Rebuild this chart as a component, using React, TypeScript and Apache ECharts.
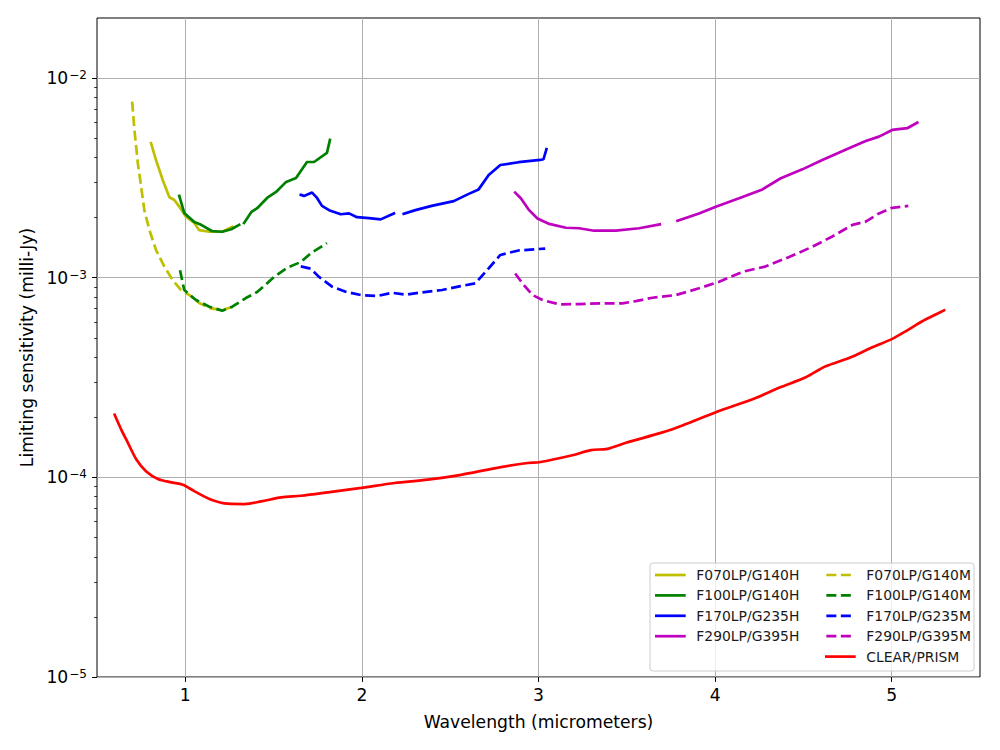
import React, { useEffect, useRef } from "react";
import * as echarts from "echarts";

const FONT = "DejaVu Sans";

const X_TICKS = [1, 2, 3, 4, 5];
const Y_TICKS = [1e-5, 1e-4, 1e-3, 1e-2];
const Y_MINOR = [
  2e-5, 3e-5, 4e-5, 5e-5, 6e-5, 7e-5, 8e-5, 9e-5,
  2e-4, 3e-4, 4e-4, 5e-4, 6e-4, 7e-4, 8e-4, 9e-4,
  2e-3, 3e-3, 4e-3, 5e-3, 6e-3, 7e-3, 8e-3, 9e-3,
];

type Pt = [number, number | null];

const F070LP_G140H: Pt[] = [
  [0.806, 4.72e-3], [0.834, 3.89e-3], [0.872, 3.09e-3], [0.91, 2.53e-3], [0.938, 2.45e-3],
  [0.966, 2.27e-3], [1.004, 2.02e-3], [1.051, 1.88e-3], [1.079, 1.73e-3], [1.136, 1.7e-3],
  [1.209, 1.7e-3], [1.266, 1.8e-3],
];
const F070LP_G140M: Pt[] = [
  [0.699, 7.62e-3], [0.712, 5.5e-3], [0.731, 3.76e-3], [0.75, 2.86e-3], [0.768, 2.18e-3],
  [0.797, 1.73e-3], [0.834, 1.38e-3], [0.881, 1.14e-3], [0.928, 9.74e-4], [0.976, 8.68e-4],
  [1.023, 8.19e-4], [1.079, 7.47e-4], [1.136, 7.05e-4], [1.209, 6.89e-4], [1.266, 7.13e-4],
];
const F100LP_G140H: Pt[] = [
  [0.966, 2.57e-3], [0.994, 2.11e-3], [1.051, 1.9e-3], [1.09, 1.84e-3], [1.153, 1.71e-3],
  [1.209, 1.7e-3], [1.26, 1.75e-3], [1.305, 1.84e-3], [1.32, null], [1.333, 1.88e-3],
  [1.373, 2.13e-3], [1.407, 2.23e-3], [1.463, 2.51e-3], [1.514, 2.69e-3], [1.571, 3.02e-3],
  [1.627, 3.16e-3], [1.689, 3.8e-3], [1.729, 3.8e-3], [1.802, 4.22e-3], [1.819, 4.9e-3],
];
const F100LP_G140M: Pt[] = [
  [0.97, 1.09e-3], [0.994, 8.68e-4], [1.06, 7.73e-4], [1.136, 7.16e-4], [1.209, 6.84e-4],
  [1.266, 7.16e-4], [1.343, 7.91e-4], [1.407, 8.48e-4], [1.503, 1.01e-3], [1.576, 1.12e-3],
  [1.655, 1.2e-3], [1.712, 1.33e-3], [1.802, 1.49e-3],
];
const F170LP_G235H: Pt[] = [
  [1.654, 2.6e-3], [1.672, 2.57e-3], [1.718, 2.67e-3], [1.746, 2.51e-3], [1.774, 2.29e-3],
  [1.814, 2.18e-3], [1.88, 2.08e-3], [1.927, 2.1e-3], [1.972, 2.01e-3], [2.04, 1.99e-3],
  [2.106, 1.96e-3], [2.181, 2.1e-3], [2.21, null], [2.237, 2.09e-3], [2.303, 2.18e-3],
  [2.395, 2.29e-3], [2.52, 2.42e-3], [2.605, 2.63e-3], [2.661, 2.77e-3], [2.718, 3.27e-3],
  [2.784, 3.67e-3], [2.887, 3.79e-3], [3.01, 3.89e-3], [3.028, 3.92e-3], [3.045, 4.4e-3],
];
const F170LP_G235M: Pt[] = [
  [1.654, 1.14e-3], [1.71, 1.11e-3], [1.757, 1.01e-3], [1.831, 9.02e-4], [1.908, 8.51e-4],
  [1.993, 8.19e-4], [2.087, 8.1e-4], [2.171, 8.41e-4], [2.247, 8.22e-4], [2.341, 8.45e-4],
  [2.454, 8.68e-4], [2.558, 9.08e-4], [2.642, 9.37e-4], [2.708, 1.09e-3], [2.784, 1.3e-3],
  [2.887, 1.37e-3], [3.038, 1.4e-3],
];
const F290LP_G395H: Pt[] = [
  [2.868, 2.67e-3], [2.9, 2.5e-3], [2.947, 2.18e-3], [2.994, 1.98e-3], [3.061, 1.86e-3],
  [3.155, 1.78e-3], [3.23, 1.77e-3], [3.315, 1.72e-3], [3.438, 1.72e-3], [3.57, 1.77e-3],
  [3.687, 1.85e-3], [3.74, null], [3.787, 1.93e-3], [3.909, 2.1e-3], [4.004, 2.27e-3],
  [4.136, 2.5e-3], [4.268, 2.77e-3], [4.372, 3.15e-3], [4.494, 3.49e-3], [4.607, 3.89e-3],
  [4.758, 4.45e-3], [4.853, 4.84e-3], [4.928, 5.09e-3], [5.003, 5.5e-3], [5.088, 5.61e-3],
  [5.145, 5.98e-3],
];
const F290LP_G395M: Pt[] = [
  [2.868, 1.05e-3], [2.909, 9.37e-4], [2.966, 8.19e-4], [3.023, 7.73e-4], [3.117, 7.36e-4],
  [3.23, 7.38e-4], [3.344, 7.44e-4], [3.475, 7.44e-4], [3.551, 7.64e-4], [3.645, 7.94e-4],
  [3.778, 8.19e-4], [3.909, 8.85e-4], [4.023, 9.55e-4], [4.155, 1.07e-3], [4.287, 1.14e-3],
  [4.419, 1.27e-3], [4.551, 1.43e-3], [4.664, 1.61e-3], [4.778, 1.84e-3], [4.853, 1.91e-3],
  [4.928, 2.1e-3], [5.003, 2.24e-3], [5.094, 2.29e-3],
];
const CLEAR_PRISM: Pt[] = [
  [0.6, 2.06e-4], [0.638, 1.73e-4], [0.675, 1.49e-4], [0.723, 1.23e-4], [0.779, 1.07e-4],
  [0.845, 9.82e-5], [0.921, 9.44e-5], [0.986, 9.19e-5], [1.053, 8.51e-5], [1.147, 7.73e-5],
  [1.241, 7.38e-5], [1.336, 7.35e-5], [1.43, 7.58e-5], [1.543, 7.94e-5], [1.656, 8.09e-5],
  [1.807, 8.41e-5], [1.996, 8.85e-5], [2.185, 9.37e-5], [2.373, 9.74e-5], [2.562, 1.03e-4],
  [2.75, 1.11e-4], [2.939, 1.18e-4], [3.004, 1.19e-4], [3.192, 1.29e-4], [3.297, 1.37e-4],
  [3.39, 1.39e-4], [3.495, 1.49e-4], [3.702, 1.68e-4], [3.815, 1.82e-4], [4.004, 2.12e-4],
  [4.23, 2.5e-4], [4.362, 2.81e-4], [4.513, 3.17e-4], [4.626, 3.6e-4], [4.758, 3.96e-4],
  [4.89, 4.48e-4], [5.003, 4.94e-4], [5.079, 5.39e-4], [5.173, 6.05e-4], [5.249, 6.54e-4],
  [5.296, 6.86e-4],
];

const SERIES_DEFS = [
  { name: "F070LP/G140H", color: "#bfbf00", dashed: false, data: F070LP_G140H },
  { name: "F070LP/G140M", color: "#bfbf00", dashed: true, data: F070LP_G140M },
  { name: "F100LP/G140H", color: "#008000", dashed: false, data: F100LP_G140H },
  { name: "F100LP/G140M", color: "#008000", dashed: true, data: F100LP_G140M },
  { name: "F170LP/G235H", color: "#0000ff", dashed: false, data: F170LP_G235H },
  { name: "F170LP/G235M", color: "#0000ff", dashed: true, data: F170LP_G235M },
  { name: "F290LP/G395H", color: "#bf00bf", dashed: false, data: F290LP_G395H },
  { name: "F290LP/G395M", color: "#bf00bf", dashed: true, data: F290LP_G395M },
  { name: "CLEAR/PRISM", color: "#ff0000", dashed: false, data: CLEAR_PRISM },
];

const LEGEND_COL1 = ["F070LP/G140H", "F100LP/G140H", "F170LP/G235H", "F290LP/G395H"];
const LEGEND_COL2 = ["F070LP/G140M", "F100LP/G140M", "F170LP/G235M", "F290LP/G395M", "CLEAR/PRISM"];

const DASH = [10, 4.5];
const LW = 2.7;
const AXIS_FS = 17.2;

export default function App() {
  const ref = useRef<HTMLDivElement>(null);

  useEffect(() => {
    if (!ref.current) return;
    const chart = echarts.init(ref.current, undefined, { renderer: "svg" });

    const legendCommon = {
      orient: "vertical" as const,
      top: 568,
      padding: 0,
      itemWidth: 28,
      itemHeight: 14,
      itemGap: 6.4,
      selectedMode: false,
      lineStyle: { width: LW },
      itemStyle: { color: "rgba(0,0,0,0)", borderColor: "rgba(0,0,0,0)", borderWidth: 0, opacity: 0 },
      textStyle: {
        fontFamily: FONT,
        fontSize: 13.9,
        color: "#1a1a1a",
        padding: [0, 0, 0, 7],
      },
    };

    const yLabelFmt = (v: number) => {
      const l = Math.log10(v);
      const e = Math.round(l);
      if (Math.abs(l - e) > 0.01) return "";
      return `{b|10}{s|\u2212${-e}}`;
    };

    const option: any = {
      animation: false,
      backgroundColor: "#ffffff",
      grid: {
        left: 97,
        top: 18,
        right: 20,
        bottom: 73,
        show: true,
        borderColor: "#000",
        borderWidth: 1,
        backgroundColor: "transparent",
        containLabel: false,
      },
      xAxis: {
        type: "value",
        min: 0.5,
        max: 5.5,
        name: "Wavelength (micrometers)",
        nameLocation: "middle",
        nameGap: 36,
        nameTextStyle: { fontFamily: FONT, fontSize: AXIS_FS, color: "#000" },
        axisLine: { show: false },
        axisTick: {
          show: true,
          length: 4.9,
          customValues: X_TICKS,
          lineStyle: { color: "#000", width: 1 },
        },
        axisLabel: {
          customValues: X_TICKS,
          margin: 9,
          fontFamily: FONT,
          fontSize: AXIS_FS,
          color: "#000",
        },
        splitLine: { show: true, lineStyle: { color: "#b0b0b0", width: 1 } },
      },
      yAxis: [
        {
          type: "log",
          logBase: 10,
          min: 1e-5,
          max: 0.02,
          name: "Limiting sensitivity (milli-Jy)",
          nameLocation: "middle",
          nameGap: 55,
          nameRotate: 90,
          nameTextStyle: { fontFamily: FONT, fontSize: AXIS_FS, color: "#000" },
          axisLine: { show: false },
          axisTick: {
            show: true,
            length: 4.9,
            customValues: Y_TICKS,
            lineStyle: { color: "#000", width: 1 },
          },
          axisLabel: {
            customValues: Y_TICKS,
            margin: 10,
            formatter: yLabelFmt,
            rich: {
              b: { fontFamily: FONT, fontSize: AXIS_FS, color: "#000", lineHeight: 18 },
              s: {
                fontFamily: FONT,
                fontSize: 12,
                color: "#000",
                lineHeight: 9,
                verticalAlign: "top",
                padding: [0, 0, 0, 1],
              },
            },
          },
          splitLine: { show: true, lineStyle: { color: "#b0b0b0", width: 1 } },
        },
        {
          type: "log",
          logBase: 10,
          min: 1e-5,
          max: 0.02,
          position: "left",
          axisLine: { show: false },
          axisLabel: { show: false },
          splitLine: { show: false },
          axisTick: {
            show: true,
            length: 2.8,
            customValues: Y_MINOR,
            lineStyle: { color: "#000", width: 0.8 },
          },
        },
      ],
      legend: [
        { ...legendCommon, left: 655, data: LEGEND_COL1 },
        { ...legendCommon, left: 825, data: LEGEND_COL2 },
      ],
      graphic: [
        {
          type: "rect",
          z: 3,
          shape: { x: 650, y: 563, width: 324, height: 108, r: 3 },
          style: { fill: "rgba(255,255,255,0.8)", stroke: "#cccccc", lineWidth: 1 },
        },
      ],
      series: SERIES_DEFS.map((d) => ({
        name: d.name,
        type: "line",
        xAxisIndex: 0,
        yAxisIndex: 0,
        data: d.data,
        showSymbol: false,
        symbol: "none",
        connectNulls: false,
        smooth: d.name === "CLEAR/PRISM" ? 0.3 : false,
        color: d.color,
        lineStyle: {
          color: d.color,
          width: LW,
          type: d.dashed ? DASH : "solid",
          cap: d.dashed ? "butt" : "square",
        },
        emphasis: { disabled: true },
        z: 2,
      })),
    };

    chart.setOption(option);
    return () => chart.dispose();
  }, []);

  return (
    <div
      ref={ref}
      style={{ position: "fixed", left: 0, top: 0, width: 1000, height: 750, background: "#fff" }}
    />
  );
}
